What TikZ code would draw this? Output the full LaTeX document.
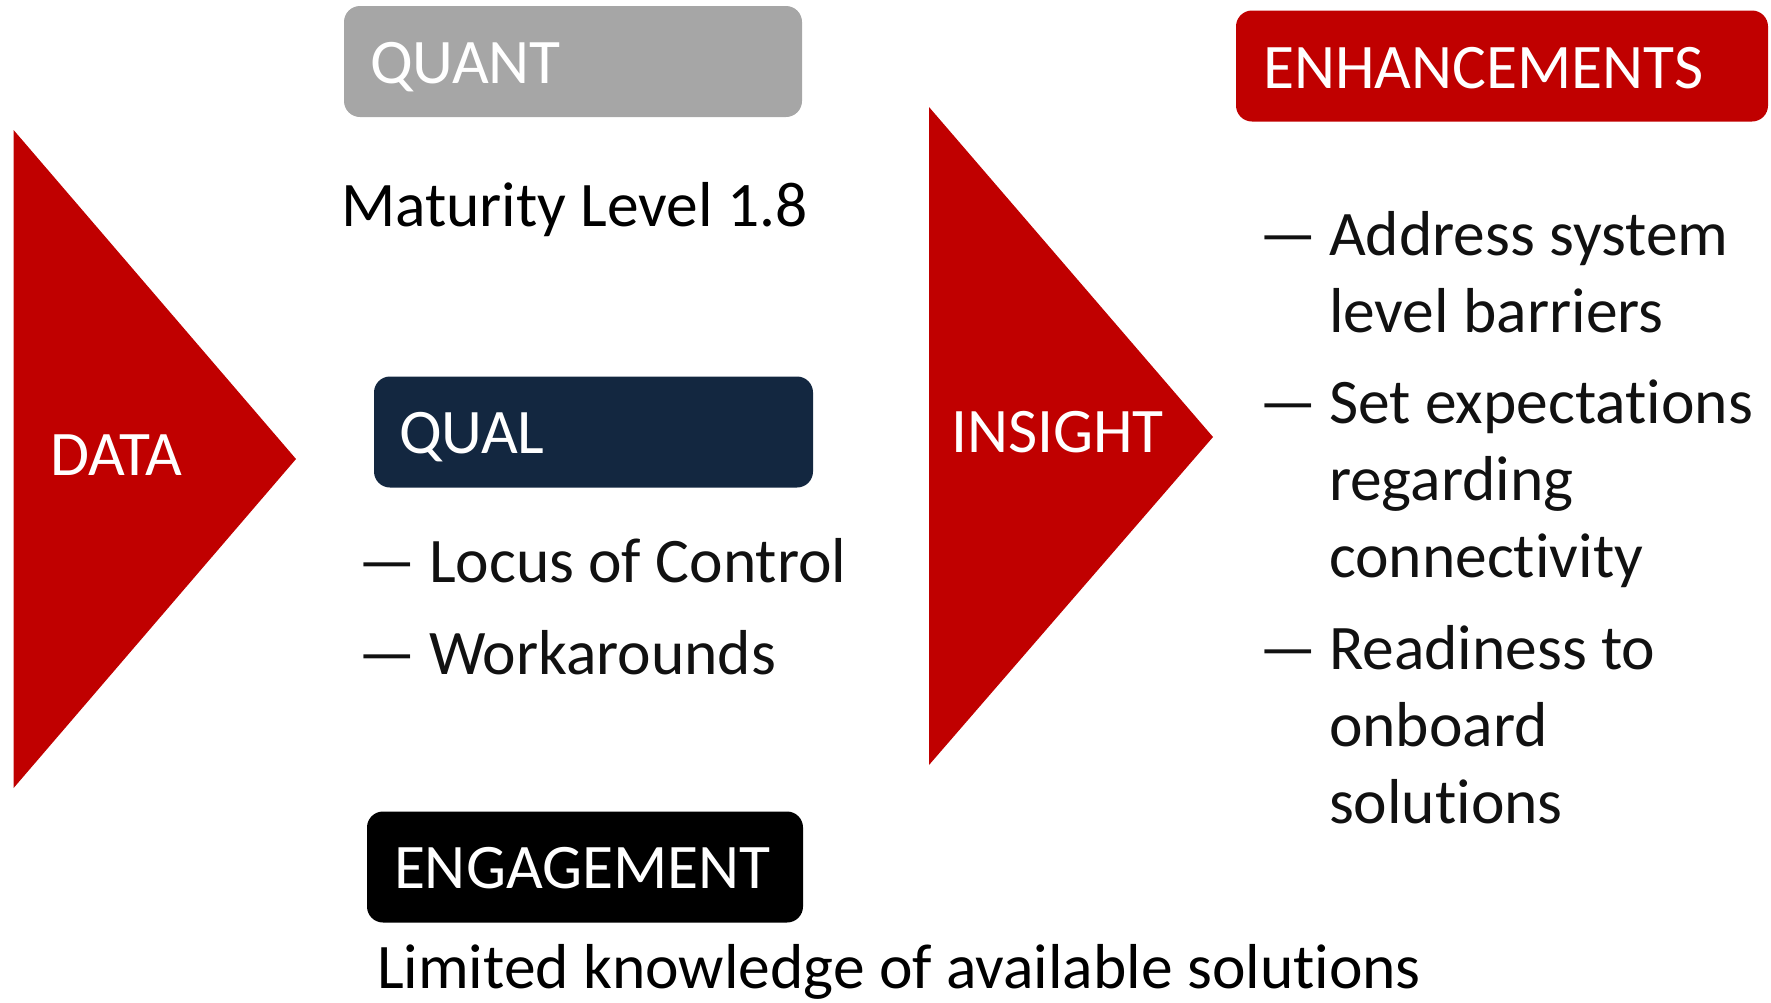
\documentclass[tikz,border=0pt]{standalone}
\usepackage{fontspec}
\setmainfont[Ligatures=NoCommon]{Carlito}
\newcommand{\ti}{t\kern0pt i}
\definecolor{myred}{HTML}{C00000}
\definecolor{mygray}{HTML}{A6A6A6}
\definecolor{mynavy}{HTML}{132740}
\definecolor{mytext}{HTML}{111111}
\begin{document}
\begin{tikzpicture}[x=1pt,y=-1pt,
  every node/.style={inner sep=0pt,outer sep=0pt,font=\fontsize{63.5}{76}\selectfont},
  txt/.style={anchor=base west,text=mytext},
  lbl/.style={anchor=base west,text=white},
  hbox/.style={rounded corners=16pt,minimum width=#1,minimum height=111pt}]
\useasboundingbox (0,0) rectangle (1771,1002);
% triangles
\fill[myred] (13.6,130) -- (296,459) -- (13.6,788) -- cycle;
\fill[myred] (929,107) -- (1213,437) -- (929,765) -- cycle;
% boxes
\node[hbox=458pt,fill=mygray] (quant) at (573,61.5) {};
\node[hbox=439pt,fill=mynavy] (qual) at (593.5,432) {};
\node[hbox=532pt,fill=myred] (enh) at (1502,66) {};
\node[hbox=436pt,fill=black] (eng) at (585,867) {};
% labels
\node[lbl] (tdata) at (50,475) {DATA};
\node[lbl] (tinsight) at (951,452) {INSIGHT};
\node[lbl] (tquant) at (370,83) {QUANT};
\node[lbl] (tqual) at (399,453) {QUAL};
\node[lbl] (tenh) at (1263,88) {ENHANCEMENTS};
\node[lbl] (teng) at (394,888) {ENGAGEMENT};
% body text
\node[txt,text=black] (mat) at (341,226) {Maturity Level 1.8};
\node[txt] (d1) at (358,582) {—};
\node[txt] (locus) at (429,582) {Locus of Control};
\node[txt] (d2) at (358,674) {—};
\node[txt] (work) at (429,674) {Workarounds};
\node[txt,text=black] (lim) at (377,988) {Limited knowledge of available solu\ti ons};
\node[txt] (e1) at (1259,255) {—};
\node[txt] (a1) at (1329,255) {Address system};
\node[txt] (a2) at (1329,332) {level barriers};
\node[txt] (e2) at (1259,423) {—};
\node[txt] (b1) at (1329,423) {Set expecta\ti ons};
\node[txt] (b2) at (1329,500) {regarding};
\node[txt] (b3) at (1329,577) {connec\ti vity};
\node[txt] (e3) at (1259,669) {—};
\node[txt] (c1) at (1329,669) {Readiness to};
\node[txt] (c2) at (1329,746) {onboard};
\node[txt] (c3) at (1329,823) {solu\ti ons};
\end{tikzpicture}
\end{document}
